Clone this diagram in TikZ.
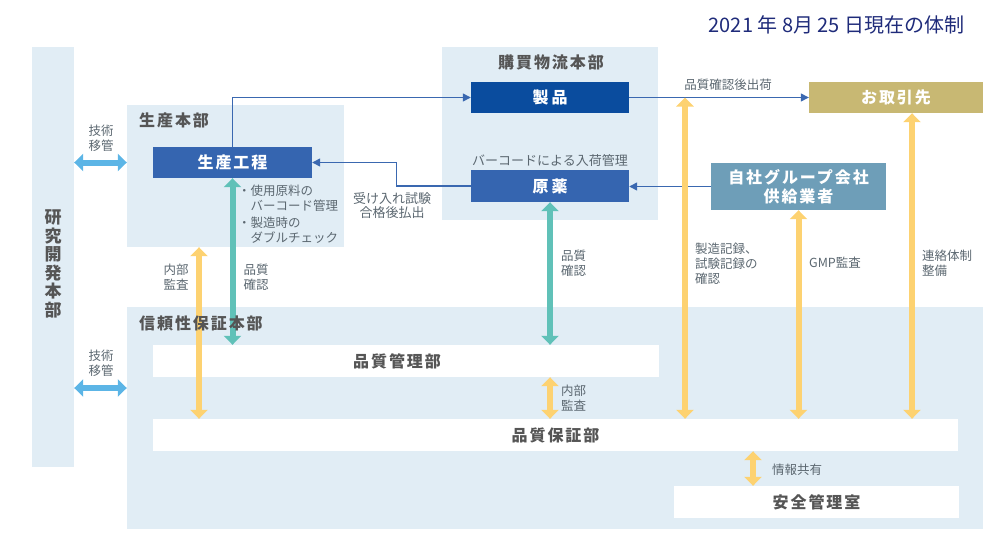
\documentclass[tikz,border=0pt]{standalone}
\usepackage{fontspec}
\setmainfont{Noto Sans CJK JP}
\newfontfamily\hdfont[LetterSpace=12]{Noto Sans CJK JP}
\usetikzlibrary{arrows.meta}
\definecolor{panelbg}{HTML}{E1EDF5}
\definecolor{unitblue}{HTML}{3565B0}
\definecolor{darkblue}{HTML}{0A4C9E}
\definecolor{khaki}{HTML}{C8B873}
\definecolor{steel}{HTML}{6E9EB8}
\definecolor{flowblue}{HTML}{3A68B0}
\definecolor{goldarr}{HTML}{FDD271}
\definecolor{tealarr}{HTML}{60C1B8}
\definecolor{skyarr}{HTML}{5CB5E6}
\definecolor{headgray}{HTML}{555555}
\definecolor{lblgray}{HTML}{5B6770}
\definecolor{datenavy}{HTML}{1F2B7A}

\begin{document}
\begin{tikzpicture}[x=1pt,y=-1pt,
 panel/.style={fill=panelbg,inner sep=0},
 unit/.style={text=white,font=\hdfont\bfseries\fontsize{16}{19}\selectfont,inner sep=0,align=center},
 wbox/.style={fill=white,inner sep=0,text=headgray,font=\hdfont\bfseries\fontsize{16}{19}\selectfont},
 head/.style={text=headgray,font=\hdfont\bfseries\fontsize{16}{19}\selectfont,inner sep=0},
 lbl/.style={text=lblgray,font=\fontsize{12.5}{15}\selectfont,inner sep=0,align=left},
 flow/.style={draw=flowblue,line width=1.3pt,-{Triangle[length=8pt,width=8pt]}},
 fat/.style={line width=6pt,{Triangle[length=9pt,width=17pt]}-{Triangle[length=9pt,width=17pt]}}]
 \useasboundingbox (0,0) rectangle (1000,549);
 % panels
 \node[panel,minimum width=42,minimum height=420] (rd) at (53,257) {};
 \node[panel,minimum width=217,minimum height=142] (seisan) at (235.5,176) {};
 \node[panel,minimum width=216,minimum height=173] (kobai) at (550,133.5) {};
 \node[panel,minimum width=856,minimum height=222] (shinrai) at (555,418) {};
 % units
 \node[unit,fill=unitblue,minimum width=159,minimum height=31] (koutei) at (232.5,162.5) {生産工程};
 \node[unit,fill=darkblue,minimum width=158,minimum height=31] (seihin) at (550,97.5) {製\hspace{3pt}品};
 \node[unit,fill=unitblue,minimum width=158,minimum height=32] (genyaku) at (550,186) {原\hspace{3pt}薬};
 \node[unit,fill=khaki,minimum width=174,minimum height=31] (torihiki) at (896,97.5) {お取引先};
 \node[unit,fill=steel,minimum width=175,minimum height=47] (jisha) at (798.5,186.5) {自社グループ会社\\供給業者};
 \node[wbox,minimum width=506,minimum height=32] (hinkan) at (406,361) {\hspace*{-18pt}品質管理部};
 \node[wbox,minimum width=805,minimum height=32] (hinpo) at (555.5,435) {品質保証部};
 \node[wbox,minimum width=285,minimum height=32] (anzen) at (816.5,502) {安全管理室};
 \coordinate (t2) at (0,388); \coordinate (ya) at (199,0); \coordinate (yb) at (685,0);
 \coordinate (yc) at (912,0); \coordinate (yd) at (753,0);
 % connectors
 \draw[flow] (koutei.north) |- (seihin.west);
 \draw[flow] (genyaku.west) -- ++(-74,0) |- (koutei.east);
 \draw[flow] (jisha.west) -- (genyaku.east |- jisha.west);
 \draw[flow] (seihin.east) -- (torihiki.west);
 \draw[fat,skyarr] (rd.east |- koutei) -- (seisan.west |- koutei);
 \draw[fat,skyarr] (rd.east |- t2) -- (shinrai.west |- t2);
 \draw[fat,goldarr] (ya |- seisan.south) -- (ya |- hinpo.north);
 \draw[fat,tealarr] (koutei.south) -- (koutei.south |- hinkan.north);
 \draw[fat,tealarr] (genyaku.south) -- (genyaku.south |- hinkan.north);
 \draw[fat,goldarr] (genyaku.south |- hinkan.south) -- (genyaku.south |- hinpo.north);
 \draw[fat,goldarr] (yb |- seihin.east) -- (yb |- hinpo.north);
 \draw[fat,goldarr] (jisha.south) -- (jisha.south |- hinpo.north);
 \draw[fat,goldarr] (yc |- torihiki.south) -- (yc |- hinpo.north);
 \draw[fat,goldarr] (yd |- hinpo.south) -- (yd |- anzen.north);
 % headings
 \node[head,align=center,font=\bfseries\fontsize{17}{18.5}\selectfont] (rdtxt) at (53,264) {研\\究\\開\\発\\本\\部};
 \node[head,anchor=west] (seisantxt) at (139,120) {生産本部};
 \node[head] (kobaitxt) at (551,62) {購買物流本部};
 \node[head,anchor=west] (shinraitxt) at (139,323) {信頼性保証本部};
 \node[text=datenavy,font=\fontsize{20}{22}\selectfont,inner sep=0] (date) at (836.5,25) {2021 年 8月 25 日現在の体制};
 % labels
 \node[lbl,align=center] (gi1) at (101,138.5) {技術\\移管};
 \node[lbl,align=center] (gi2) at (101,363) {技術\\移管};
 \node[lbl,align=center] (nb1) at (176,277.5) {内部\\監査};
 \node[lbl,align=center] (hk1) at (256,277.5) {品質\\確認};
 \node[lbl,align=center] (hk2) at (573.5,263) {品質\\確認};
 \node[lbl,align=center] (nb2) at (573.5,398) {内部\\監査};
 \node[lbl,anchor=west] (kiroku) at (695,264) {製造記録、\\試験記録の\\確認};
 \node[lbl,anchor=west] (gmp) at (809,263) {GMP監査};
 \node[lbl,anchor=west] (renraku) at (922,263.5) {連絡体制\\整備};
 \node[lbl,anchor=west] (joho) at (772,470) {情報共有};
 \node[lbl] (shukka) at (728,85) {品質確認後出荷};
 \node[lbl,font=\fontsize{13}{15}\selectfont] (barcode) at (550,161) {バーコードによる入荷管理};
 \node[lbl,align=center,font=\fontsize{13}{14}\selectfont] (ukeire) at (392,205.5) {受け入れ試験\\合格後払出};
 \node[lbl,anchor=west] (bullets) at (238,214) {・使用原料の\\\hspace*{12.5pt}バーコード管理\\[2pt]・製造時の\\\hspace*{12.5pt}ダブルチェック};
\end{tikzpicture}
\end{document}
